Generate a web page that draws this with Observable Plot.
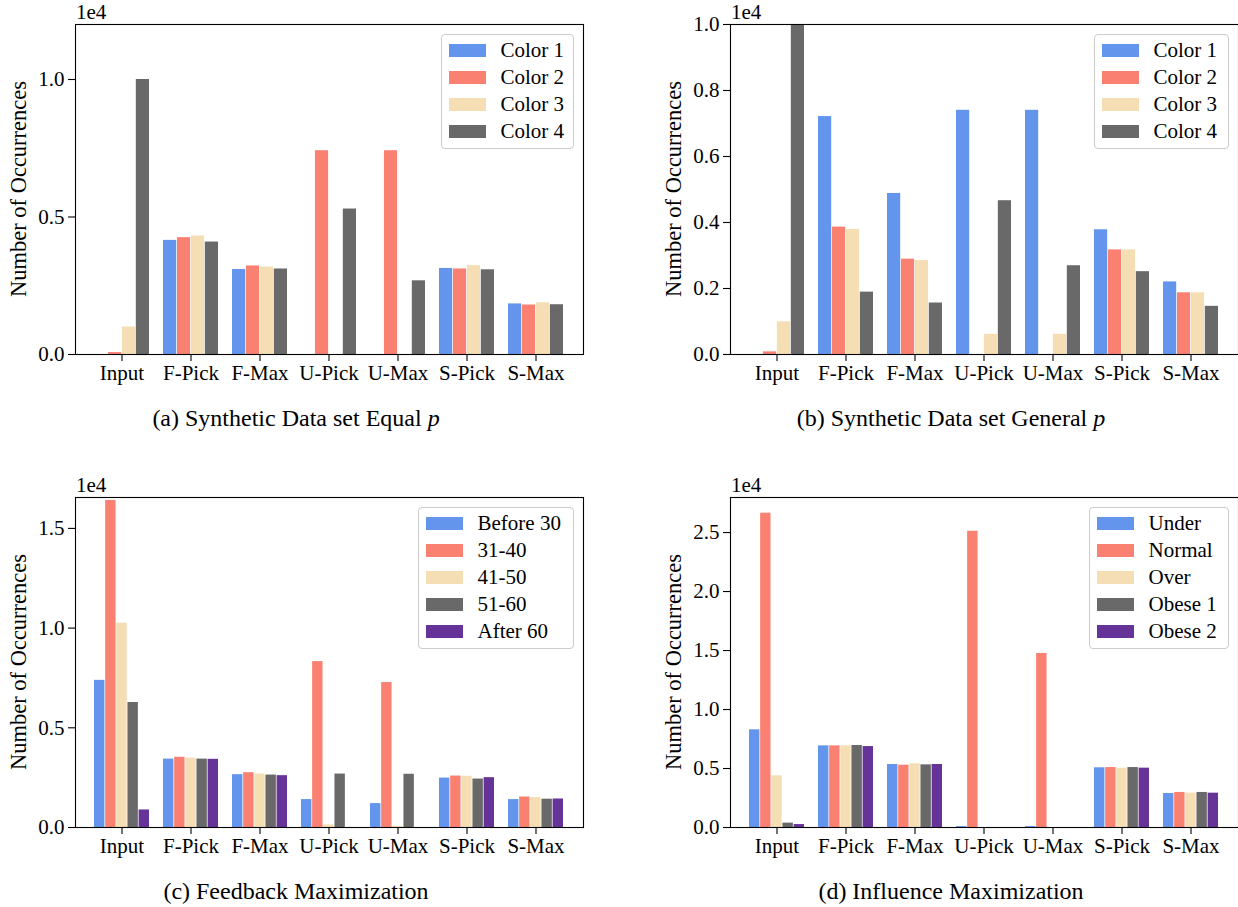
<!DOCTYPE html>
<html><head><meta charset="utf-8">
<script src="https://cdn.jsdelivr.net/npm/d3@7"></script>
<script src="https://cdn.jsdelivr.net/npm/@observablehq/plot@0.6"></script>
<style>
html,body{margin:0;padding:0;background:#fff;}
#fig{position:relative;width:1238px;height:907px;overflow:hidden;background:#fff;font-family:"Liberation Serif","Times New Roman";color:#000;}
.panel{position:absolute;overflow:visible;}
.panel svg{max-width:none !important;display:block;}
.ylab{position:absolute;font-size:22.5px;white-space:nowrap;transform:translate(-50%,-50%) rotate(-90deg);}
.off{position:absolute;font-size:21px;line-height:21px;}
.cap{position:absolute;font-family:"Liberation Serif","Times New Roman";font-size:24px;white-space:nowrap;transform:translate(-50%,-50%);}
.legend{position:absolute;box-sizing:border-box;border:1px solid #cccccc;border-radius:4px;background:rgba(255,255,255,0.8);padding:2px 6px 3px 7px;font-size:21px;}
.legend .row{height:27.2px;display:flex;align-items:center;white-space:nowrap;}
.legend .sw{width:37px;height:13px;margin-right:15px;flex:none;}
</style></head><body><div id="fig"></div><script>
// ---- data ----
const categories = ["Input","F-Pick","F-Max","U-Pick","U-Max","S-Pick","S-Max"];

const seriesEqual = ["Color 1","Color 2","Color 3","Color 4"];
const equalP_color1 = [0, 4150, 3090, 0, 0, 3130, 1840];
const equalP_color2 = [70, 4250, 3220, 7410, 7410, 3110, 1800];
const equalP_color3 = [1000, 4310, 3180, 0, 0, 3230, 1880];
const equalP_color4 = [10000, 4090, 3110, 5290, 2680, 3080, 1810];

const seriesGeneral = ["Color 1","Color 2","Color 3","Color 4"];
const generalP_color1 = [0, 7210, 4880, 7400, 7400, 3780, 2200];
const generalP_color2 = [80, 3860, 2890, 0, 0, 3170, 1870];
const generalP_color3 = [990, 3790, 2850, 610, 610, 3170, 1870];
const generalP_color4 = [10000, 1890, 1560, 4660, 2690, 2510, 1460];

const seriesAge = ["Before 30","31-40","41-50","51-60","After 60"];
const feedback_before30 = [7380, 3430, 2650, 1400, 1200, 2480, 1400];
const feedback_31_40 = [16400, 3520, 2750, 8320, 7270, 2580, 1530];
const feedback_41_50 = [10250, 3480, 2680, 130, 50, 2570, 1500];
const feedback_51_60 = [6270, 3430, 2630, 2680, 2670, 2430, 1420];
const feedback_after60 = [880, 3420, 2600, 0, 0, 2500, 1430];

const seriesBMI = ["Under","Normal","Over","Obese 1","Obese 2"];
const influence_under = [8280, 6920, 5340, 80, 80, 5060, 2880];
const influence_normal = [26640, 6920, 5280, 25110, 14750, 5080, 2970];
const influence_over = [4380, 6920, 5400, 0, 0, 5030, 2910];
const influence_obese1 = [370, 6950, 5310, 0, 0, 5080, 2970];
const influence_obese2 = [250, 6860, 5340, 0, 0, 5030, 2910];

const ticksEqual = [0, 5000, 10000];
const ticksGeneral = [0, 2000, 4000, 6000, 8000, 10000];
const ticksFeedback = [0, 5000, 10000, 15000];
const ticksInfluence = [0, 5000, 10000, 15000, 20000, 25000];

const colors = ["#6495ED", "#FA8072", "#F5DEB3", "#696969", "#663399"];

const panels = [
  {series: seriesEqual, values: [equalP_color1, equalP_color2, equalP_color3, equalP_color4],
   ymax: 12000, yticks: ticksEqual, left: 75, top: 24, legendW: 133,
   caption: '(a) Synthetic Data set Equal <i>p</i>'},
  {series: seriesGeneral, values: [generalP_color1, generalP_color2, generalP_color3, generalP_color4],
   ymax: 10000, yticks: ticksGeneral, left: 730, top: 24, legendW: 135,
   caption: '(b) Synthetic Data set General <i>p</i>'},
  {series: seriesAge, values: [feedback_before30, feedback_31_40, feedback_41_50, feedback_51_60, feedback_after60],
   ymax: 16550, yticks: ticksFeedback, left: 75, top: 497, legendW: 156,
   caption: '(c) Feedback Maximization'},
  {series: seriesBMI, values: [influence_under, influence_normal, influence_over, influence_obese1, influence_obese2],
   ymax: 27970, yticks: ticksInfluence, left: 730, top: 497, legendW: 140,
   caption: '(d) Influence Maximization'}
];

// ---- layout ----
const fig = document.getElementById("fig");
const plotW = 508, plotH = 330;
const mL = 75, mR = 10, mT = 24, mB = 40;
const padIn = 0.2, padOut = 0.245;
const font = '"Liberation Serif","Times New Roman"';

panels.forEach(p => {
  const k = p.series.length;
  const data = [];
  p.series.forEach((s, i) => categories.forEach((c, j) => data.push({cat: c, series: s, value: p.values[i][j]})));
  const step = plotW / (categories.length - padIn + 2 * padOut);
  const w = step * (1 - padIn) / k;
  const bars = p.series.map((s, i) => Plot.barY(data.filter(d => d.series === s), {
    x: "cat", y: "value", fill: colors[i], insetLeft: i * w, insetRight: (k - 1 - i) * w
  }));
  const chart = Plot.plot({
    width: mL + plotW + mR, height: mT + plotH + mB,
    marginLeft: mL, marginRight: mR, marginTop: mT, marginBottom: mB,
    style: {fontFamily: font, fontSize: "21px", background: "transparent", overflow: "visible", color: "#000", maxWidth: "none"},
    x: {domain: categories, paddingInner: padIn, paddingOuter: padOut, align: 0.5},
    y: {domain: [0, p.ymax]},
    marks: [
      ...bars,
      Plot.frame({stroke: "#000", strokeWidth: 1.1}),
      Plot.axisX({tickSize: 7, tickPadding: 4, label: null, stroke: "#000", strokeWidth: 1.1}),
      Plot.axisY({ticks: p.yticks, tickFormat: d => (d / 1e4).toFixed(1), tickSize: 7, tickPadding: 4, label: null, stroke: "#000", strokeWidth: 1.1})
    ]
  });
  chart.style.maxWidth = "none";
  const holder = document.createElement("div");
  holder.className = "panel";
  holder.style.left = (p.left - mL) + "px";
  holder.style.top = (p.top - mT) + "px";
  holder.style.width = (mL + plotW + mR) + "px";
  holder.style.height = (mT + plotH + mB) + "px";
  holder.appendChild(chart);
  fig.appendChild(holder);

  // offset text
  const off = document.createElement("div");
  off.className = "off";
  off.textContent = "1e4";
  off.style.left = (p.left + 1) + "px";
  off.style.top = (p.top - 22) + "px";
  fig.appendChild(off);

  // y label
  const yl = document.createElement("div");
  yl.className = "ylab";
  yl.textContent = "Number of Occurrences";
  yl.style.left = (p.left - 56) + "px";
  yl.style.top = (p.top + plotH / 2) + "px";
  fig.appendChild(yl);

  // legend
  const lg = document.createElement("div");
  lg.className = "legend";
  lg.style.width = p.legendW + "px";
  lg.style.right = (1238 - (p.left + plotW - 9.5)) + "px";
  lg.style.top = (p.top + 9.5) + "px";
  p.series.forEach((s, i) => {
    const row = document.createElement("div");
    row.className = "row";
    const sw = document.createElement("div");
    sw.className = "sw";
    sw.style.background = colors[i];
    const t = document.createElement("span");
    t.textContent = s;
    row.appendChild(sw); row.appendChild(t);
    lg.appendChild(row);
  });
  fig.appendChild(lg);

  // caption
  const cap = document.createElement("div");
  cap.className = "cap";
  cap.innerHTML = p.caption;
  cap.style.left = (p.left < 400 ? 296 : 951) + "px";
  cap.style.top = (p.top + 394) + "px";
  fig.appendChild(cap);
});
</script></body></html>
